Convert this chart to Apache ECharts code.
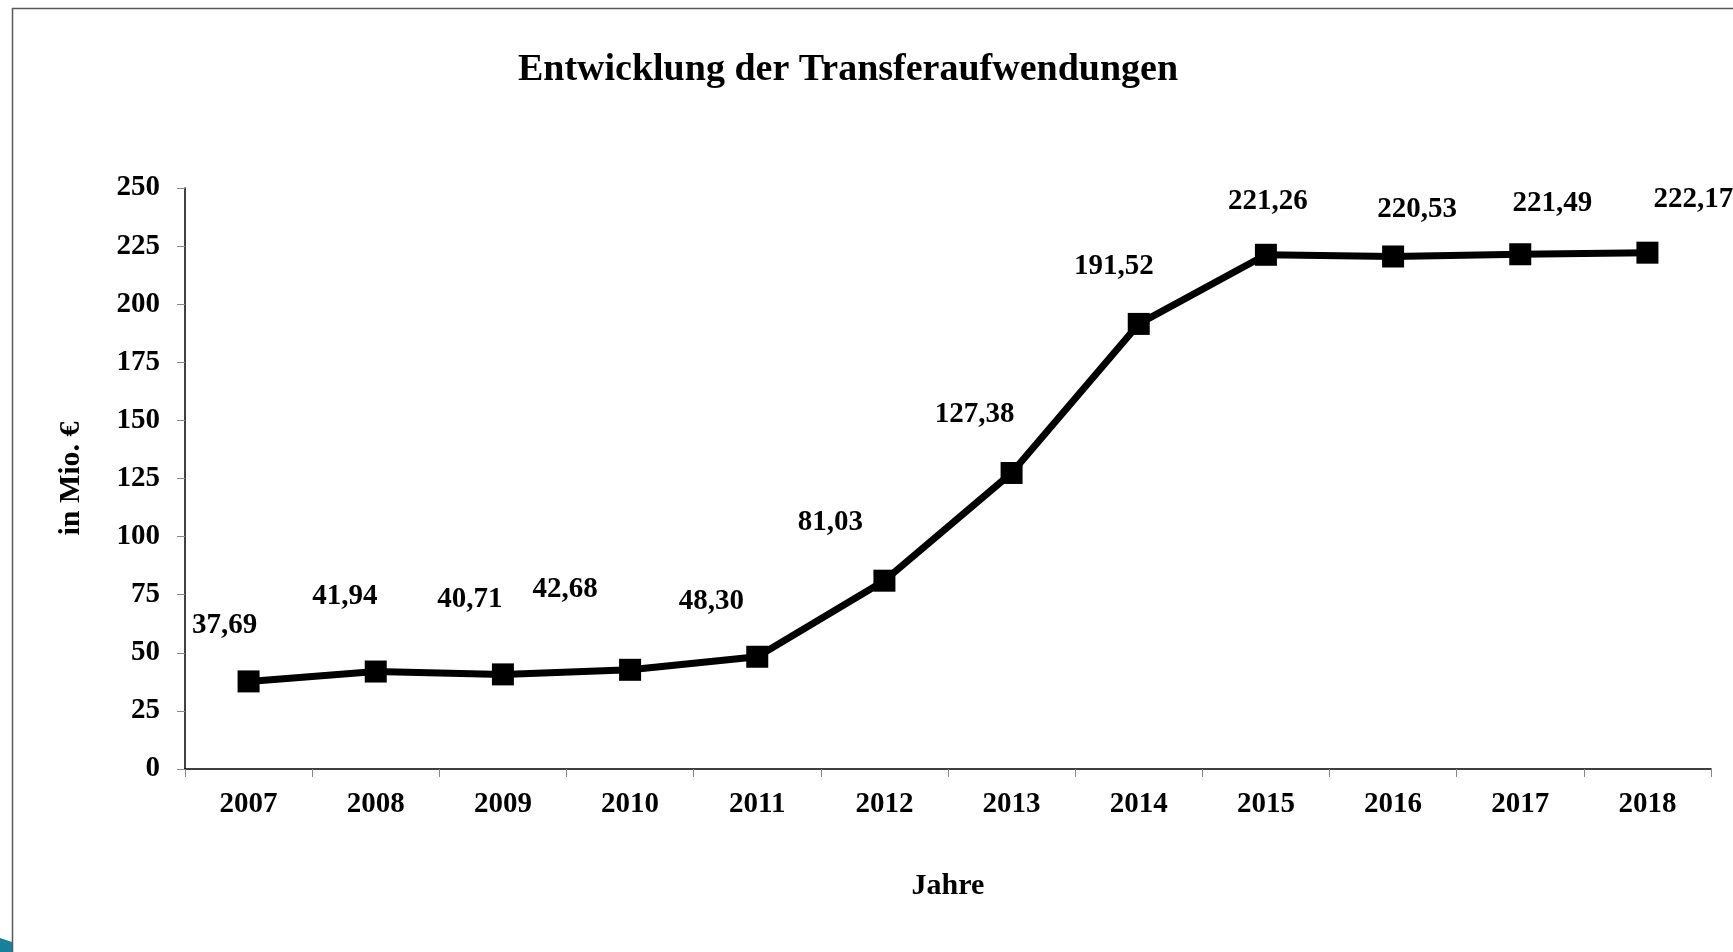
<!DOCTYPE html>
<html>
<head>
<meta charset="utf-8">
<title>Entwicklung der Transferaufwendungen</title>
<script src="https://cdn.jsdelivr.net/npm/echarts@6/dist/echarts.min.js"></script>
<style>
  html, body { margin: 0; padding: 0; background: #fff; }
  #chart { width: 1733px; height: 952px; }
</style>
</head>
<body>
<div id="chart"></div>
<script>
var years = ['2007', '2008', '2009', '2010', '2011', '2012', '2013', '2014', '2015', '2016', '2017', '2018'];
var transfer = [37.69, 41.94, 40.71, 42.68, 48.30, 81.03, 127.38, 191.52, 221.26, 220.53, 221.49, 222.17];
// where each value label sits relative to its marker (as in the original slide)
var labelShift = [[-24, -56], [-31, -75], [-33, -75], [-65, -80], [-46, -55], [-54, -58],
                  [-37, -58], [-25, -57], [2, -53], [24, -47], [32, -51], [46, -53]];

var serif = "'Liberation Serif', 'Times New Roman', serif";

var dom = document.getElementById('chart');
var myChart = echarts.init(dom);

var points = [];
for (var i = 0; i < transfer.length; i++) {
    points.push({
        value: transfer[i],
        label: { offset: labelShift[i] }
    });
}

var option = {
    animation: false,
    backgroundColor: '#fff',
    title: {
        text: 'Entwicklung der Transferaufwendungen',
        left: 843,
        top: 46,
        textAlign: 'center',
        textStyle: { fontFamily: serif, fontWeight: 'bold', fontSize: 38, color: '#000' }
    },
    graphic: [
        {
            type: 'rect',
            shape: { x: 12.5, y: 8.5, width: 1900, height: 1100 },
            style: { fill: null, stroke: '#595959', lineWidth: 1.5 },
            silent: true
        },
        {
            type: 'polygon',
            shape: { points: [[0, 938], [12, 942], [12, 952], [0, 952]] },
            style: { fill: '#17809a' },
            silent: true
        }
    ],
    grid: { left: 185, right: 22, top: 188, bottom: 183, containLabel: false },
    xAxis: {
        type: 'category',
        data: years,
        name: 'Jahre',
        nameLocation: 'middle',
        nameGap: 102,
        nameTextStyle: { fontFamily: serif, fontWeight: 'bold', fontSize: 30, color: '#000' },
        axisLine: { lineStyle: { color: '#000', width: 1.5 } },
        axisTick: { show: true, length: 8, lineStyle: { color: '#888' } },
        axisLabel: { fontFamily: serif, fontWeight: 'bold', fontSize: 29, color: '#000', margin: 21 },
        splitLine: { show: false }
    },
    yAxis: {
        type: 'value',
        min: 0,
        max: 250,
        interval: 25,
        name: 'in Mio. €',
        nameLocation: 'middle',
        nameRotate: 90,
        nameGap: 99,
        nameTextStyle: { fontFamily: serif, fontWeight: 'bold', fontSize: 30, color: '#000' },
        axisLine: { show: true, lineStyle: { color: '#000', width: 1.5 } },
        axisTick: { show: true, length: 8, lineStyle: { color: '#888' } },
        axisLabel: { fontFamily: serif, fontWeight: 'bold', fontSize: 29, color: '#000', margin: 25 },
        splitLine: { show: false }
    },
    series: [
        {
            name: 'Transferaufwendungen',
            type: 'line',
            data: points,
            color: '#000',
            symbol: 'rect',
            symbolSize: 22,
            lineStyle: { color: '#000', width: 7 },
            itemStyle: { color: '#000' },
            label: {
                show: true,
                position: 'inside',
                fontFamily: serif,
                fontWeight: 'bold',
                fontSize: 29,
                color: '#000',
                formatter: function (p) {
                    return p.value.toFixed(2).replace('.', ',');
                }
            },
            emphasis: { disabled: true }
        }
    ]
};

if (option && typeof option === 'object') {
    myChart.setOption(option, true);
}
</script>
</body>
</html>
